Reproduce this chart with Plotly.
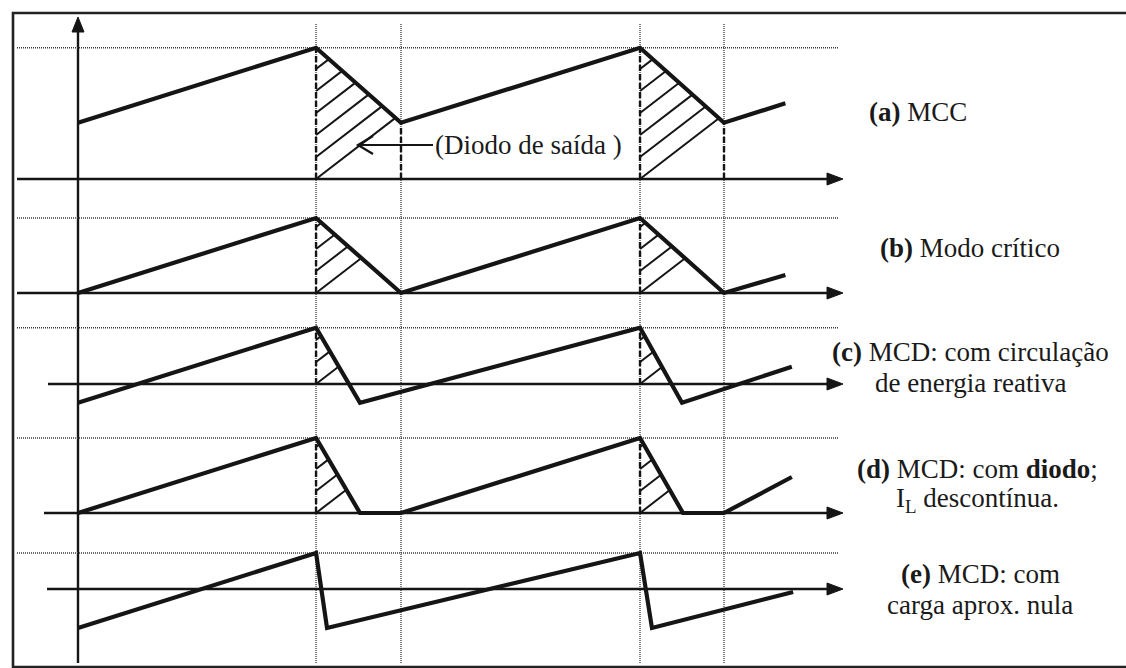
import plotly.graph_objects as go

# ---------------------------------------------------------------------------
# Canvas and scales
# ---------------------------------------------------------------------------
W, H = 1126, 668
PX_PER_T = 323.0   # pixels per switching period T
PX_PER_I = 75.0    # pixels per unit of current ripple (delta I)
T0_PX = 78.0       # horizontal pixel of t = 0 (vertical axis)


def tx(px):
    """pixel column -> time (periods)"""
    return (px - T0_PX) / PX_PER_T


def yv(py):
    """pixel row -> y data value"""
    return (H - py) / PX_PER_I


# ---------------------------------------------------------------------------
# Data: inductor current for each operating mode
# time in switching periods, current in units of ripple delta I
# ---------------------------------------------------------------------------
switch_t = [0.737, 1.0, 1.740, 2.0]

t_a = [0.0, 0.737, 1.0, 1.740, 2.0, 2.19]
i_a = [0.75, 1.75, 0.75, 1.75, 0.75, 1.01]

t_b = [0.0, 0.737, 1.0, 1.740, 2.0, 2.19]
i_b = [0.0, 1.0, 0.0, 1.0, 0.0, 0.24]

t_c = [0.0, 0.737, 0.873, 1.740, 1.870, 2.21]
i_c = [-0.25, 0.75, -0.25, 0.75, -0.25, 0.23]

t_d = [0.0, 0.737, 0.873, 1.0, 1.740, 1.873, 2.0, 2.21]
i_d = [0.0, 1.0, 0.0, 0.0, 1.0, 0.0, 0.0, 0.48]

t_e = [0.0, 0.737, 0.771, 1.740, 1.777, 2.214]
i_e = [-0.52, 0.48, -0.52, 0.48, -0.52, -0.04]

# output-diode conduction intervals (hatched areas)
diode_a = [(0.737, 1.0), (1.740, 2.0)]
diode_b = [(0.737, 1.0), (1.740, 2.0)]
diode_c = [(0.737, 0.873), (1.740, 1.870)]
diode_d = [(0.737, 0.873), (1.740, 1.873)]
diode_e = []

# panel captions (HTML text)
caption_a = ["<b>(a)</b> MCC"]
caption_b = ["<b>(b)</b> Modo crítico"]
caption_c = ["<b>(c)</b> MCD: com circulação", "de energia reativa"]
caption_d = ["<b>(d)</b> MCD: com <b>diodo</b>;", "I<sub>L</sub> descontínua."]
caption_e = ["<b>(e)</b> MCD: com", "carga aprox. nula"]

diode_note = "(Diodo de saída )"

# ---------------------------------------------------------------------------
# Layout of the stacked panels (pixel rows / columns)
# ---------------------------------------------------------------------------
panels = [
    dict(t=t_a, i=i_a, diode=diode_a, base_px=179, axis_from_px=17,
         caption=caption_a, cap_x=918, cap_y=[112]),
    dict(t=t_b, i=i_b, diode=diode_b, base_px=293, axis_from_px=17,
         caption=caption_b, cap_x=970, cap_y=[248]),
    dict(t=t_c, i=i_c, diode=diode_c, base_px=384, axis_from_px=48,
         caption=caption_c, cap_x=970, cap_y=[352, 383]),
    dict(t=t_d, i=i_d, diode=diode_d, base_px=513, axis_from_px=44,
         caption=caption_d, cap_x=977, cap_y=[469, 500]),
    dict(t=t_e, i=i_e, diode=diode_e, base_px=589, axis_from_px=47,
         caption=caption_e, cap_x=980, cap_y=[574, 605]),
]

AXIS_TIP_PX = 843
GRID_LEFT_PX, GRID_RIGHT_PX = 17, 838
VGRID_TOP_PX, VGRID_BOTTOM_PX = 23, 663
YAXIS_TOP_PX, YAXIS_BOTTOM_PX = 17, 663

INK = "#151515"
GRID = "#3c3c3c"
FONT = "Liberation Serif"

HATCH_SLOPE = 0.77      # pixel slope of hatch lines
HATCH_STEP = 22.0       # vertical pixel step between hatch lines


def interp(ts, vs, x):
    for k in range(1, len(ts)):
        if ts[k - 1] <= x <= ts[k]:
            if ts[k] == ts[k - 1]:
                return vs[k]
            f = (x - ts[k - 1]) / (ts[k] - ts[k - 1])
            return vs[k - 1] + f * (vs[k] - vs[k - 1])
    return vs[-1]


def diode_polygon(ts, vs, a, b):
    xs = [a] + [x for x in ts if a < x < b] + [b]
    pts = [(x, interp(ts, vs, x)) for x in xs]
    out = []
    for k, (x, y) in enumerate(pts):
        if k > 0:
            xp, yp = pts[k - 1]
            if (yp > 0 and y < 0) or (yp < 0 and y > 0):
                out.append((xp + (0 - yp) * (x - xp) / (y - yp), 0.0))
        if y >= 0:
            out.append((x, y))
    return [(out[0][0], 0.0)] + out + [(out[-1][0], 0.0)]


def hatch_segments(poly):
    # work in pixel-like space so the hatch angle is isotropic
    P = [(t * PX_PER_T, v * PX_PER_I) for t, v in poly]
    X0, Y0 = P[0]
    segs = []
    for k in range(-40, 41):
        c = (Y0 - HATCH_SLOPE * X0) + k * HATCH_STEP
        xs = []
        for n in range(len(P) - 1):
            (x1, y1), (x2, y2) = P[n], P[n + 1]
            f1 = y1 - HATCH_SLOPE * x1 - c
            f2 = y2 - HATCH_SLOPE * x2 - c
            if f1 == f2:
                continue
            if f1 * f2 <= 0:
                s = f1 / (f1 - f2)
                xs.append(x1 + s * (x2 - x1))
        if len(xs) >= 2:
            xa, xb = min(xs), max(xs)
            if xb - xa > 2.0:
                segs.append(((xa / PX_PER_T, (HATCH_SLOPE * xa + c) / PX_PER_I),
                             (xb / PX_PER_T, (HATCH_SLOPE * xb + c) / PX_PER_I)))
    return segs


fig = go.Figure()
shapes = []
annotations = []

# vertical dotted lines at the switching instants
for st in switch_t:
    shapes.append(dict(type="line", layer="below", x0=st, x1=st,
                       y0=yv(VGRID_BOTTOM_PX), y1=yv(VGRID_TOP_PX),
                       line=dict(color=GRID, width=1.3, dash="1px,1px")))

# vertical axis with arrow
shapes.append(dict(type="line", layer="below", x0=0, x1=0,
                   y0=yv(YAXIS_BOTTOM_PX), y1=yv(YAXIS_TOP_PX + 8),
                   line=dict(color=INK, width=2.4)))
shapes.append(dict(type="path", layer="above", xsizemode="pixel", ysizemode="pixel",
                   xanchor=0, yanchor=yv(YAXIS_TOP_PX),
                   path="M0,0 L-6,-15 L6,-15 Z", fillcolor=INK,
                   line=dict(color=INK, width=1)))

hatch_x, hatch_y = [], []
dash_x, dash_y = [], []

for p in panels:
    base = yv(p["base_px"])
    peak = max(p["i"])

    # dotted line at the peak current
    shapes.append(dict(type="line", layer="below",
                       x0=tx(GRID_LEFT_PX), x1=tx(GRID_RIGHT_PX),
                       y0=base + peak, y1=base + peak,
                       line=dict(color=GRID, width=1.3, dash="1px,1px")))

    # time axis with arrow
    shapes.append(dict(type="line", layer="below",
                       x0=tx(p["axis_from_px"]), x1=tx(AXIS_TIP_PX - 8),
                       y0=base, y1=base, line=dict(color=INK, width=2.6)))
    shapes.append(dict(type="path", layer="above", xsizemode="pixel", ysizemode="pixel",
                       xanchor=tx(AXIS_TIP_PX), yanchor=base,
                       path="M0,0 L-16,6 L-16,-6 Z", fillcolor=INK,
                       line=dict(color=INK, width=1)))

    # hatched diode-conduction areas
    for a, b in p["diode"]:
        poly = diode_polygon(p["t"], p["i"], a, b)
        for (ta, va), (tb, vb) in hatch_segments(poly):
            hatch_x += [ta, tb, None]
            hatch_y += [base + va, base + vb, None]
        left_top = poly[1][1]
        dash_x += [poly[0][0], poly[0][0], None]
        dash_y += [base, base + left_top, None]
        right_top = poly[-2][1]
        if right_top > 0.05:
            dash_x += [poly[-1][0], poly[-1][0], None]
            dash_y += [base, base + right_top, None]

    # captions on the right
    for txt, cy in zip(p["caption"], p["cap_y"]):
        annotations.append(dict(text=txt, xref="paper", yref="paper",
                                x=p["cap_x"] / W, y=1 - cy / H,
                                xanchor="center", yanchor="middle", showarrow=False,
                                font=dict(family=FONT, size=27, color="#1a1a1a")))

fig.add_trace(go.Scatter(x=hatch_x, y=hatch_y, mode="lines", hoverinfo="skip",
                         line=dict(color=INK, width=2.0), showlegend=False))
fig.add_trace(go.Scatter(x=dash_x, y=dash_y, mode="lines", hoverinfo="skip",
                         line=dict(color=INK, width=2.4, dash="6px,3px"), showlegend=False))

for p in panels:
    base = yv(p["base_px"])
    fig.add_trace(go.Scatter(x=p["t"], y=[base + v for v in p["i"]], mode="lines",
                             line=dict(color=INK, width=4.2), showlegend=False,
                             hoverinfo="skip"))

# callout pointing into the hatched area of panel (a)
NOTE_Y_PX, NOTE_TIP_PX, NOTE_TEXT_PX = 145, 358, 433
shapes.append(dict(type="line", layer="above",
                   x0=tx(NOTE_TIP_PX), x1=tx(NOTE_TEXT_PX),
                   y0=yv(NOTE_Y_PX), y1=yv(NOTE_Y_PX),
                   line=dict(color=INK, width=2.2)))
shapes.append(dict(type="path", layer="above", xsizemode="pixel", ysizemode="pixel",
                   xanchor=tx(NOTE_TIP_PX), yanchor=yv(NOTE_Y_PX),
                   path="M15,9 L0,0 L15,-9", line=dict(color=INK, width=2.2)))
annotations.append(dict(text=diode_note, xref="paper", yref="paper",
                        x=NOTE_TEXT_PX / W, y=1 - NOTE_Y_PX / H,
                        xanchor="left", yanchor="middle", showarrow=False,
                        font=dict(family=FONT, size=27, color="#1a1a1a")))

# outer frame
shapes.append(dict(type="rect", xref="paper", yref="paper", layer="above",
                   x0=13 / W, x1=1.02, y0=1 - 667 / H, y1=1 - 13 / H,
                   line=dict(color="#222222", width=2.6)))

fig.update_layout(
    width=W, height=H, autosize=False,
    margin=dict(l=0, r=0, t=0, b=0),
    paper_bgcolor="white", plot_bgcolor="white",
    xaxis=dict(range=[tx(0), tx(W)], visible=False, fixedrange=True),
    yaxis=dict(range=[yv(H), yv(0)], visible=False, fixedrange=True),
    shapes=shapes, annotations=annotations, showlegend=False,
)

fig.write_html("out.html")
